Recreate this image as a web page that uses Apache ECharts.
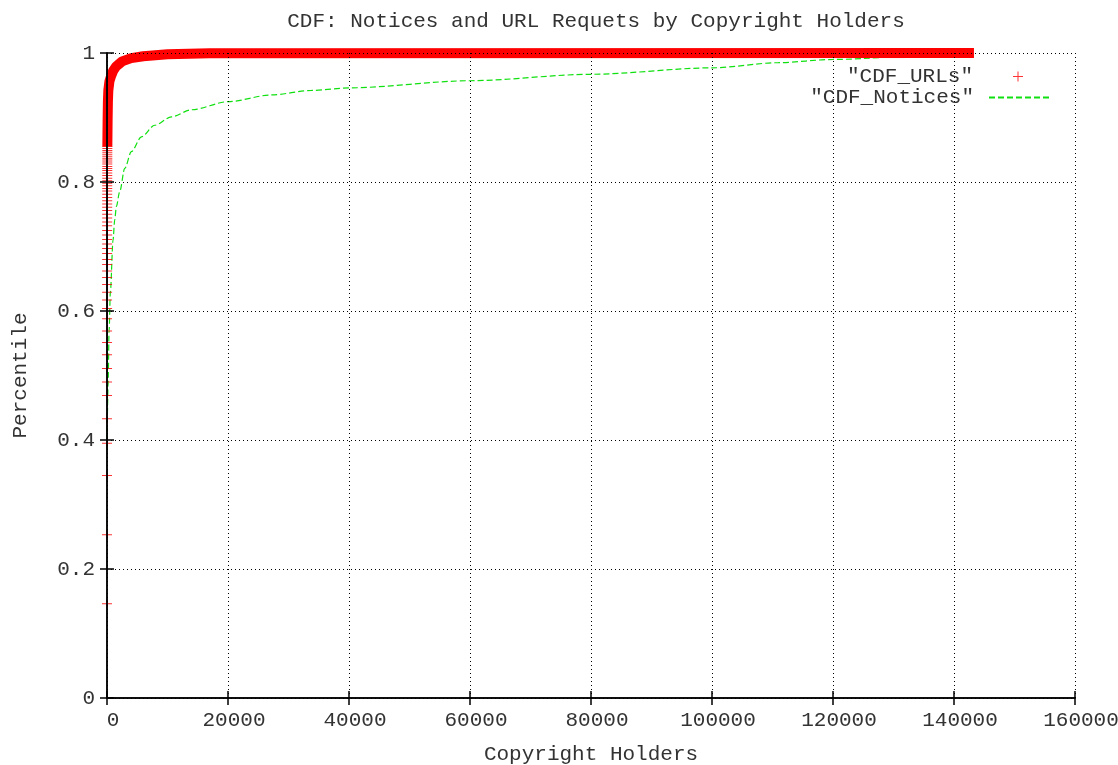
<!DOCTYPE html>
<html lang="en">
<head>
    <meta charset="UTF-8">
    <title>CDF copyright holders</title>
    <script src="https://cdn.jsdelivr.net/npm/echarts@6/dist/echarts.min.js"></script>
    <style>
        html, body { margin: 0; padding: 0; background: #fff; }
    </style>
</head>
<body>
    <div id="main" style="width: 1118px; height: 765px;"></div>
    <script>
        // first copyright holders, one red "+" each
        var urlPointY = [0.146, 0.253, 0.345, 0.395, 0.433, 0.469, 0.490, 0.511, 0.532, 0.551,
            0.569, 0.588, 0.604, 0.617, 0.629, 0.641, 0.652, 0.662, 0.672, 0.680,
            0.689, 0.697, 0.704, 0.711, 0.718, 0.725, 0.732, 0.738, 0.744, 0.750,
            0.756, 0.761, 0.766, 0.771, 0.776, 0.781, 0.786, 0.790, 0.794, 0.798,
            0.802, 0.806, 0.810, 0.814, 0.818, 0.821, 0.824, 0.828, 0.831, 0.834,
            0.837, 0.840, 0.843, 0.846, 0.849, 0.852, 0.855];
        // the rest of the URL curve, where the "+" marks pile up into a thick band
        var urlBandX = [57, 100, 150, 220, 400, 700, 1000, 1500, 2500, 4000, 6000, 10000, 17000, 143300];
        var urlBandY = [0.855, 0.895, 0.925, 0.942, 0.956, 0.965, 0.972, 0.979, 0.987, 0.992, 0.995, 0.998, 0.9995, 1.0];

        var noticeX = [1, 60, 170, 350, 560, 1000, 1270, 1550, 2100, 2930, 4030, 5690, 7890, 10650,
            13960, 20010, 27180, 33800, 40140, 60000, 80000, 100000, 111000, 120000, 138900, 143000];
        var noticeY = [0.385, 0.44, 0.483, 0.57, 0.63, 0.71, 0.741, 0.762, 0.785, 0.821, 0.847, 0.870, 0.888, 0.901,
            0.912, 0.9245, 0.935, 0.942, 0.946, 0.957, 0.967, 0.977, 0.985, 0.990, 0.998, 1.0];

        var xTicks = { min: 0, max: 160000, interval: 20000 };
        var yTicks = { min: 0, max: 1, interval: 0.2 };

        var FONT = 'Liberation Mono';
        var TXT = '#333';
        var plusIcon = 'path://M0,4.5L10,4.5L10,5.5L0,5.5Z M4.5,0L5.5,0L5.5,10L4.5,10Z';

        var urlPoints = urlPointY.map(function (y, i) { return [i + 1, y]; });
        var urlBand = urlBandX.map(function (x, i) { return [x, urlBandY[i]]; });
        var notices = noticeX.map(function (x, i) { return [x, noticeY[i]]; });

        var frameLine = { show: true, lineStyle: { color: '#000', width: 1.5 } };
        var tickIn = { show: true, inside: true, length: 7, lineStyle: { color: '#000', width: 1.5 } };
        var plain = function (v) { return String(v); };

        var myChart = echarts.init(document.getElementById('main'));
        myChart.setOption({
            backgroundColor: '#fff',
            animation: false,
            title: {
                text: 'CDF: Notices and URL Requets by Copyright Holders',
                left: 591,
                textAlign: 'center',
                top: 6,
                textStyle: { fontFamily: FONT, fontSize: 21, fontWeight: 'normal', color: TXT }
            },
            legend: [{
                data: [{ name: 'CDF_URLs', icon: plusIcon }],
                right: 90,
                top: 61,
                align: 'right',
                itemWidth: 10,
                itemHeight: 10,
                textStyle: { fontFamily: FONT, fontSize: 21, color: TXT, padding: [0, 35, 0, 0] },
                formatter: function (n) { return '"' + n + '"'; }
            }, {
                data: ['CDF_Notices'],
                right: 61,
                top: 82,
                align: 'right',
                itemWidth: 62,
                itemHeight: 10,
                itemStyle: { opacity: 0 },
                textStyle: { fontFamily: FONT, fontSize: 21, color: TXT, padding: [0, 10, 0, 0] },
                formatter: function (n) { return '"' + n + '"'; }
            }],
            grid: { left: 107, right: 43, top: 53, bottom: 67, outerBoundsMode: 'none', containLabel: false },
            xAxis: [{
                type: 'value',
                min: xTicks.min, max: xTicks.max, interval: xTicks.interval,
                position: 'bottom',
                z: 10,
                name: 'Copyright Holders',
                nameLocation: 'middle',
                nameGap: 46,
                nameTextStyle: { fontFamily: FONT, fontSize: 21, color: TXT },
                axisLine: frameLine,
                axisTick: tickIn,
                axisLabel: { fontFamily: FONT, fontSize: 21, color: TXT, margin: 12, padding: [0, 0, 0, 12], formatter: plain },
                splitLine: { show: true, lineStyle: { color: '#000', type: [1, 3], width: 1 } }
            }, {
                type: 'value',
                min: xTicks.min, max: xTicks.max, interval: xTicks.interval,
                position: 'top',
                z: 10,
                axisLine: frameLine,
                axisTick: tickIn,
                axisLabel: { show: false },
                splitLine: { show: false }
            }],
            yAxis: [{
                type: 'value',
                min: yTicks.min, max: yTicks.max, interval: yTicks.interval,
                position: 'left',
                z: 10,
                name: 'Percentile',
                nameLocation: 'middle',
                nameGap: 76,
                nameTextStyle: { fontFamily: FONT, fontSize: 21, color: TXT },
                axisLine: frameLine,
                axisTick: tickIn,
                axisLabel: { fontFamily: FONT, fontSize: 21, color: TXT, margin: 12, formatter: plain },
                splitLine: { show: true, lineStyle: { color: '#000', type: [1, 3], width: 1 } }
            }, {
                type: 'value',
                min: yTicks.min, max: yTicks.max, interval: yTicks.interval,
                position: 'right',
                z: 10,
                axisLine: frameLine,
                axisTick: tickIn,
                axisLabel: { show: false },
                splitLine: { show: false }
            }],
            series: [{
                name: 'CDF_URLs',
                type: 'scatter',
                symbol: plusIcon,
                symbolSize: 10,
                itemStyle: { color: '#ff0000' },
                data: urlPoints,
                z: 3
            }, {
                name: 'CDF_URLs',
                type: 'line',
                symbol: 'none',
                lineStyle: { color: '#ff0000', width: 10 },
                data: urlBand,
                z: 3
            }, {
                name: 'CDF_Notices',
                type: 'line',
                symbol: 'none',
                smooth: 0.3,
                smoothMonotone: 'x',
                itemStyle: { color: '#10e010' },
                lineStyle: { color: '#10e010', width: 1.2, type: [6, 3] },
                data: notices,
                z: 2
            }]
        });
    </script>
</body>
</html>
